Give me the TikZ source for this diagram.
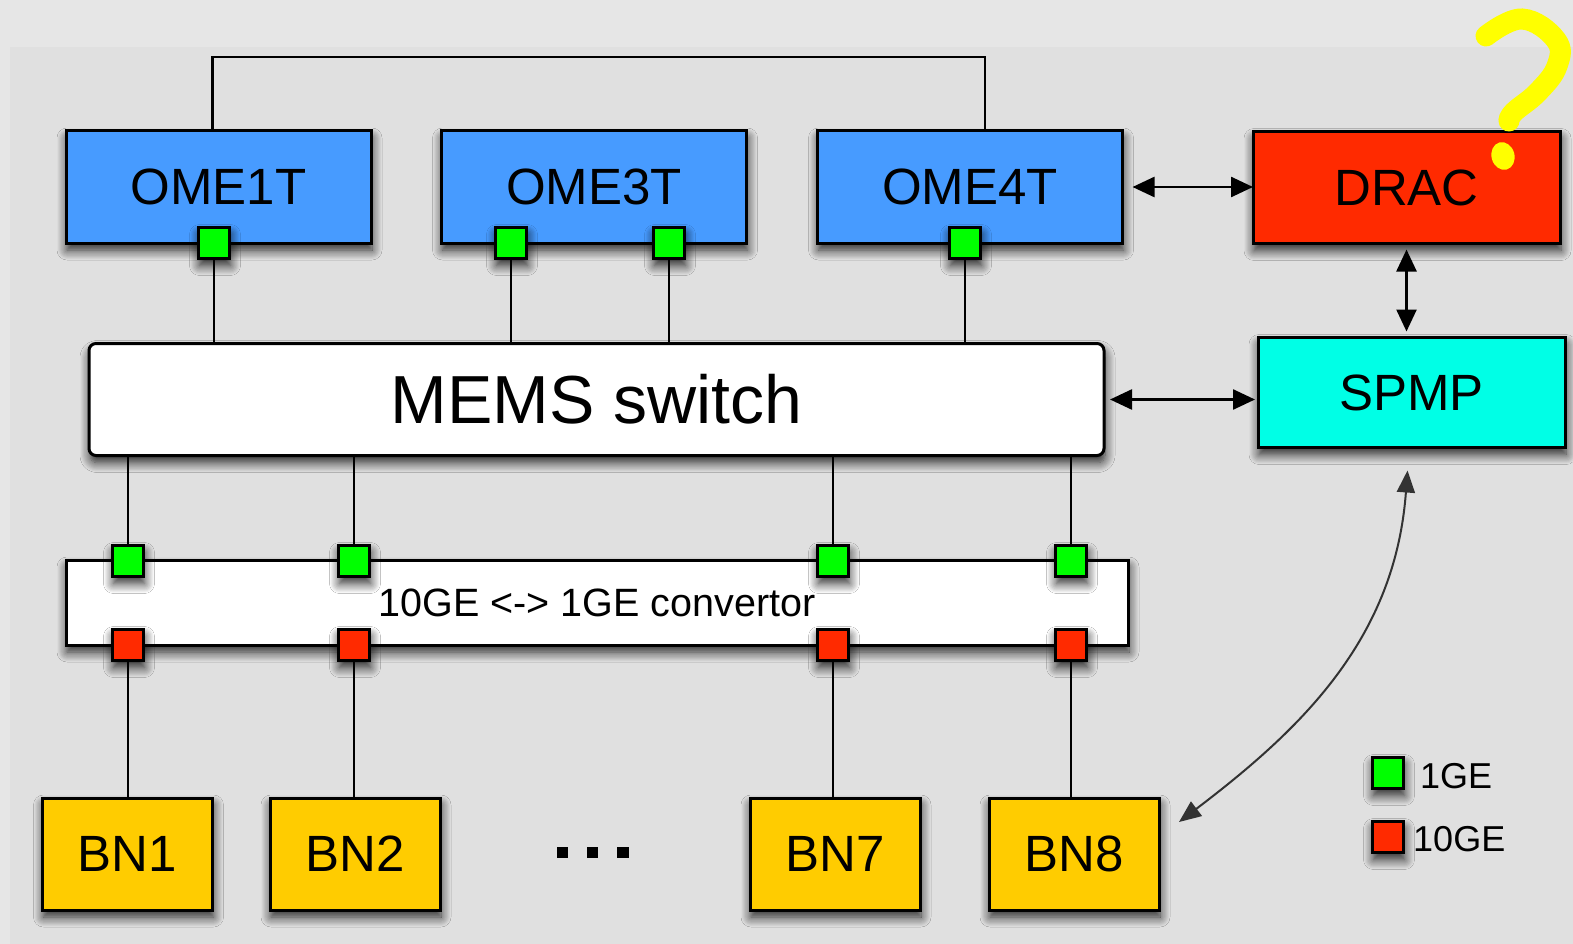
\documentclass[tikz,border=0pt]{standalone}
\usepackage{fontspec}
\setmainfont{Liberation Sans}
\usetikzlibrary{arrows.meta,shadows.blur}
\definecolor{bgout}{HTML}{E6E6E6}
\definecolor{bgin}{HTML}{E0E0E0}
\definecolor{omeblue}{HTML}{479BFF}
\definecolor{dracred}{HTML}{FF2A00}
\definecolor{spmpcyan}{HTML}{00FFE6}
\definecolor{bnyellow}{HTML}{FFCC00}
\definecolor{portgreen}{HTML}{00FF00}
\definecolor{portred}{HTML}{FF2A00}
\definecolor{qyellow}{HTML}{FFFF00}

\begin{document}
\begin{tikzpicture}[x=1pt,y=-1pt,
  dropshade/.style={blur shadow={shadow xshift=1pt,shadow yshift=-7pt,
      shadow blur radius=10pt,shadow blur steps=10,shadow opacity=85}},
  box/.style={draw=black,line width=3pt,dropshade,outer sep=0pt,inner sep=0pt,
      font=\fontsize{51}{51}\selectfont},
  omebox/.style={box,fill=omeblue,minimum width=305pt,minimum height=112pt},
  dracbox/.style={box,fill=dracred,minimum width=307pt,minimum height=112pt},
  spmpbox/.style={box,fill=spmpcyan,minimum width=307pt,minimum height=110pt},
  bnbox/.style={box,fill=bnyellow,minimum width=170pt,minimum height=112pt},
  membox/.style={box,fill=white,rounded corners=7pt,minimum width=1015pt,
      minimum height=112pt,font=\fontsize{68}{68}\selectfont},
  convbox/.style={box,fill=white,minimum width=1062pt,minimum height=85pt,
      font=\fontsize{39.5}{39.5}\selectfont},
  port/.style={draw=black,line width=3pt,dropshade,outer sep=0pt,inner sep=0pt,
      minimum size=31pt},
  gport/.style={port,fill=portgreen},
  rport/.style={port,fill=portred},
  wire/.style={line width=2.5pt},
  biarrow/.style={line width=2.5pt,
      {Triangle[length=22pt,width=20pt]}-{Triangle[length=22pt,width=20pt]}},
  legendtext/.style={anchor=west,inner sep=0pt,font=\fontsize{36}{36}\selectfont}
]
% canvas
\useasboundingbox (0,0) rectangle (1573,944);
\fill[bgout] (0,0) rectangle (1573,944);
\fill[bgin] (10,47) rectangle (1573,944);

% top row
\node[omebox] (ome1) at (218.5,187) {OME1T};
\node[omebox] (ome3) at (594,187) {OME3T};
\node[omebox] (ome4) at (970,187) {OME4T};
\node[dracbox] (drac) at (1406.5,187.5) {DRAC};
\node[spmpbox] (spmp) at (1411.5,392.5) {SPMP};

% switch and convertor
\node[membox] (mems) at (596.5,399.5) {MEMS switch};
\node[convbox] (conv) at (597,602.5) {10GE <-> 1GE convertor};

% nodes
\node[bnbox] (bn1) at (127.5,854) {BN1};
\node[bnbox] (bn2) at (355,854) {BN2};
\node[bnbox] (bn7) at (835,854) {BN7};
\node[bnbox] (bn8) at (1074,854) {BN8};
\fill (557,847) rectangle (568,858);
\fill (587,847) rectangle (598,858);
\fill (617,847) rectangle (629,858);

% ports
\node[gport] (og1) at (214,243) {};
\node[gport] (og3a) at (511,243) {};
\node[gport] (og3b) at (669,243) {};
\node[gport] (og4) at (965,243) {};
\node[gport] (cg1) at (128,561) {};
\node[gport] (cg2) at (354,561) {};
\node[gport] (cg3) at (833,561) {};
\node[gport] (cg4) at (1071,561) {};
\node[rport] (cr1) at (128,645) {};
\node[rport] (cr2) at (354,645) {};
\node[rport] (cr3) at (833,645) {};
\node[rport] (cr4) at (1071,645) {};

% wiring
\draw[wire] ([xshift=-6pt]ome1.north) -- ++(0,-74) -| ([xshift=15pt]ome4.north);
\foreach \p in {og1,og3a,og3b,og4}
  \draw[wire] (\p.south) -- (\p.south |- mems.north);
\foreach \p in {cg1,cg2,cg3,cg4}
  \draw[wire] (\p.north |- mems.south) -- (\p.north);
\draw[wire] (cr1.south) -- (cr1.south |- bn1.north);
\draw[wire] (cr2.south) -- (cr2.south |- bn2.north);
\draw[wire] (cr3.south) -- (cr3.south |- bn7.north);
\draw[wire] (cr4.south) -- (cr4.south |- bn8.north);

% control links
\draw[biarrow,shorten <=10pt] (ome4.east) -- (ome4.east -| drac.west);
\draw[biarrow,shorten <=6pt,shorten >=6pt] (drac.south) -- (drac.south |- spmp.north);
\draw[biarrow,shorten <=6pt,shorten >=3pt] (mems.east) -- (mems.east -| spmp.west);
\draw[line width=2pt,color=black!80,
      {Triangle[length=22pt,width=18pt]}-{Triangle[length=22pt,width=18pt]}]
  ([shift={(-4,23)}]spmp.south) .. controls (1395,640) and (1300,730) ..
  ([shift={(20,-32)}]bn8.east);

% legend
\node[gport] (lg) at (1388,773) {};
\node[legendtext] (lgt) at (1420,776) {1GE};
\node[rport] (lr) at (1388,837) {};
\node[legendtext] (lrt) at (1413,839) {10GE};

% question mark
\draw[qyellow,line width=21pt,line cap=round]
  plot[smooth,tension=0.7] coordinates
  {(1486,36) (1522,19) (1556,40) (1557,66) (1538,92) (1514,112) (1509,121)};
\fill[qyellow,rotate around={15:(1503,156)}] (1503,156) ellipse [x radius=11.5pt,y radius=14pt];
\end{tikzpicture}
\end{document}
